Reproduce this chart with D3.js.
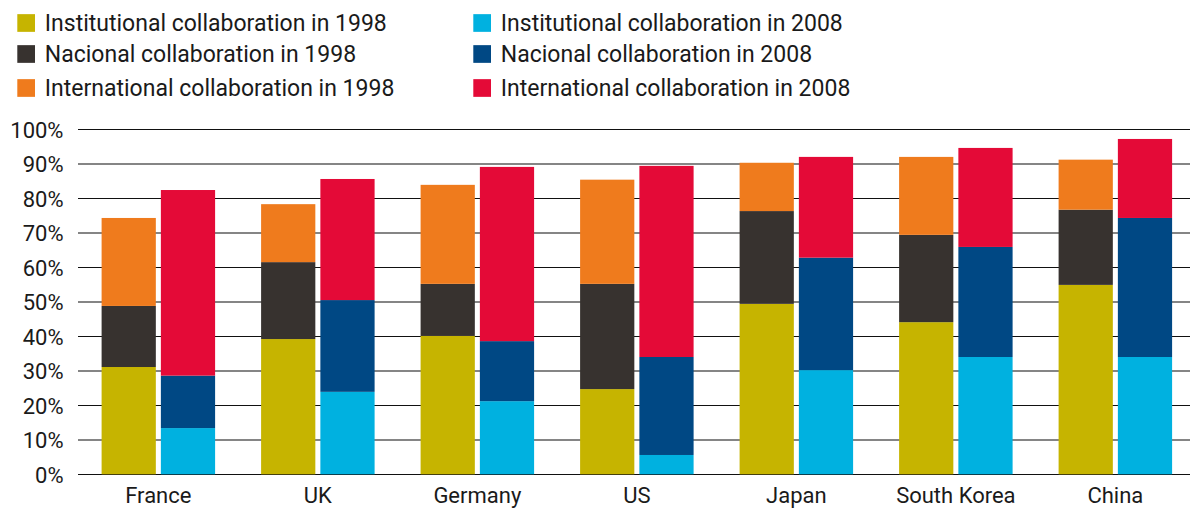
<!DOCTYPE html>
<html>
<head>
<meta charset="utf-8">
<script src="https://cdn.jsdelivr.net/npm/d3@7"></script>
<style>
  html, body { margin: 0; padding: 0; background: #fff; }
  svg { display: block; }
  text { font-family: Roboto, "Noto Sans", sans-serif; fill: #1a1a1a; }
</style>
</head>
<body>
<svg id="chart" width="1190" height="508"></svg>
<script>
const categories = ["France", "UK", "Germany", "US", "Japan", "South Korea", "China"];
const years = ["1998", "2008"];
const inst1998 = [31.1, 39.2, 40.1, 24.7, 49.4, 44.1, 54.9];
const nat1998  = [17.7, 22.3, 15.1, 30.5, 26.9, 25.3, 21.8];
const intl1998 = [25.5, 16.8, 28.7, 30.2, 14.0, 22.6, 14.5];
const inst2008 = [13.4, 23.9, 21.2, 5.6, 30.2, 34.0, 34.0];
const nat2008  = [15.2, 26.6, 17.4, 28.4, 32.6, 31.9, 40.3];
const intl2008 = [53.8, 35.1, 50.5, 55.4, 29.2, 28.7, 22.9];
const yTicks = [0, 10, 20, 30, 40, 50, 60, 70, 80, 90, 100];
const legendLabels = [
  "Institutional collaboration in 1998", "Nacional collaboration in 1998", "International collaboration in 1998",
  "Institutional collaboration in 2008", "Nacional collaboration in 2008", "International collaboration in 2008"
];
const colors = {
  inst1998: "#C6B400", nat1998: "#37322F", intl1998: "#EF7B1D",
  inst2008: "#00B1E0", nat2008: "#004884", intl2008: "#E40A37"
};

const svg = d3.select("#chart");

const x = d3.scaleBand().domain(categories).range([78.6, 1195.1]).paddingInner(0).paddingOuter(0);
const groupW = 113.5;
const xIn = d3.scaleBand().domain(years).range([0, groupW]).paddingInner(0.085).paddingOuter(0);
const y = d3.scaleLinear().domain([0, 100]).range([474.3, 129.3]);

// grid
const grid = svg.append("g");
yTicks.forEach(t => {
  const odd = (t / 10) % 2 === 1;
  grid.append("line")
    .attr("x1", 78).attr("x2", 1190)
    .attr("y1", Math.round(y(t)) + (odd ? 0 : 0.5))
    .attr("y2", Math.round(y(t)) + (odd ? 0 : 0.5))
    .attr("stroke", odd ? "#858585" : "#111")
    .attr("stroke-width", odd ? 2 : 1);
});

// y axis labels
const yAxis = d3.axisLeft(y).tickValues(yTicks).tickFormat(d => d + "%").tickSize(0).tickPadding(0);
const ya = svg.append("g").attr("transform", "translate(63.5,0)").call(yAxis);
ya.select(".domain").remove();
ya.selectAll("text").attr("font-size", 22).attr("font-family", "Roboto, sans-serif").attr("fill", "#1a1a1a").attr("dy", "0.36em");

// data table
const table = categories.map((c, i) => ({
  cat: c,
  "1998": { inst: inst1998[i], nat: nat1998[i], intl: intl1998[i] },
  "2008": { inst: inst2008[i], nat: nat2008[i], intl: intl2008[i] }
}));
const keys = ["inst", "nat", "intl"];

years.forEach(yr => {
  const rows = table.map(d => Object.assign({ cat: d.cat }, d[yr]));
  const stacked = d3.stack().keys(keys)(rows);
  stacked.forEach(layer => {
    svg.append("g").attr("fill", colors[layer.key + yr])
      .selectAll("rect").data(layer).join("rect")
      .attr("x", d => x(d.data.cat) + x.bandwidth() / 2 - groupW / 2 + xIn(yr))
      .attr("width", xIn.bandwidth())
      .attr("y", d => y(d[1]))
      .attr("height", d => y(d[0]) - y(d[1]));
  });
});

// x axis labels
const xAxis = d3.axisBottom(x).tickSize(0).tickPadding(0);
const xa = svg.append("g").attr("transform", "translate(0,503.3)").call(xAxis);
xa.select(".domain").remove();
xa.selectAll("text").attr("font-size", 22).attr("font-family", "Roboto, sans-serif").attr("fill", "#1a1a1a").attr("dy", 0);

// legend
const legendKeys = ["inst1998", "nat1998", "intl1998", "inst2008", "nat2008", "intl2008"];
const rowCY = [23, 54, 88];
const colX = [17.3, 473.3];
legendKeys.forEach((k, i) => {
  const col = Math.floor(i / 3), row = i % 3;
  const g = svg.append("g").attr("transform", `translate(${colX[col]},${rowCY[row]})`);
  g.append("rect").attr("x", 0).attr("y", -8.85).attr("width", 17.7).attr("height", 17.7).attr("fill", colors[k]);
  g.append("text").attr("x", 27.5).attr("y", 0).attr("dy", "0.36em").attr("font-size", 23).text(legendLabels[i]);
});
</script>
</body>
</html>
